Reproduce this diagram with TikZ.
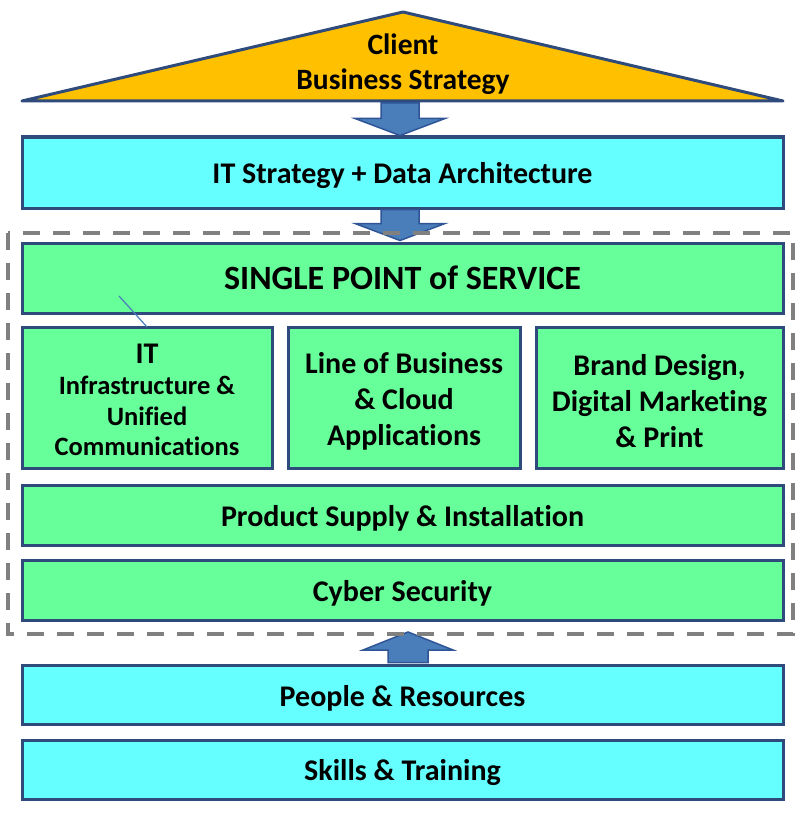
\documentclass[tikz,border=0pt]{standalone}
\usepackage{fontspec}
\setmainfont{Carlito}[Ligatures=NoCommon]
\usetikzlibrary{calc}
\definecolor{navy}{HTML}{2F4B7C}
\definecolor{orangef}{HTML}{FFC000}
\definecolor{cyanf}{HTML}{66FFFF}
\definecolor{greenf}{HTML}{66FF99}
\definecolor{arrowf}{HTML}{4A7EBB}
\definecolor{arrowd}{HTML}{2F5597}
\definecolor{dashg}{HTML}{808080}
\newcommand{\dn}{\rule{0pt}{28pt}}
\tikzset{
  box/.style={draw=navy, line width=3pt, rectangle, align=center, inner sep=0pt,
    font=\fontsize{30}{36}\selectfont\bfseries},
  cyanbox/.style={box, fill=cyanf},
  greenbox/.style={box, fill=greenf},
  bigarrow/.style={draw=arrowd, line width=1.5pt, fill=arrowf, line join=miter},
}
\begin{document}
\begin{tikzpicture}[x=1pt,y=-1pt]
\useasboundingbox (0,0) rectangle (800,824);
% triangle
\draw[draw=navy, line width=3pt, fill=orangef, line join=round] (22,101) -- (403,12) -- (783,101) -- cycle;
\node[align=center, font=\fontsize{29.5}{35}\selectfont\bfseries] (client) at (403,64) {Client\\Business Strategy};
\coordinate (tb) at (400,102);
% boxes
\node[cyanbox, minimum width=761pt, minimum height=71pt] (strat) at (402.5,172.5) {\dn IT Strategy + Data Architecture};
\node[greenbox, minimum width=761pt, minimum height=70pt, font=\fontsize{34}{40}\selectfont\bfseries] (sps) at (402.5,278) {SINGLE POINT of SERVICE};
\node[greenbox, minimum width=250pt, minimum height=141pt] (it) at (147,397.5) {};
\node[font=\fontsize{30}{36}\selectfont\bfseries] (ittitle) at (147,354) {IT};
\node[align=center, font=\fontsize{26.5}{30.5}\selectfont\bfseries] (itsub) at (147,416) {Infrastructure \&\\Unified\\Communications};
\node[greenbox, minimum width=232pt, minimum height=141pt] (lob) at (404,397.5) {\dn Line of Business\\\& Cloud\\Applications};
\node[greenbox, minimum width=247pt, minimum height=141pt] (brand) at (659.5,397.5) {\dn Brand Design,\\Digital Marketing\\\& Print};
\node[greenbox, minimum width=761pt, minimum height=60pt] (prod) at (402.5,515) {\dn Product Supply \& Installation};
\node[greenbox, minimum width=761pt, minimum height=60pt] (cyber) at (402.5,590) {\dn Cyber Security};
\node[cyanbox, minimum width=761pt, minimum height=59pt] (people) at (402.5,694.5) {\dn People \& Resources};
\node[cyanbox, minimum width=761pt, minimum height=59pt] (skills) at (402.5,769.5) {\dn Skills \& Training};
% small line
\coordinate (ln1) at (119,296);
\coordinate (ln2) at (147,327);
\draw[color=arrowf, line width=1.2pt] (ln1) -- (ln2);
% arrows
\coordinate (a1t) at (strat.north -| tb);
\draw[bigarrow] ($(tb)+(-19,1)$) -- ($(tb)+(19,1)$) -- ($(a1t)+(19,-17)$) -- ($(a1t)+(45,-17)$) -- (a1t)
  -- ($(a1t)+(-45,-17)$) -- ($(a1t)+(-19,-17)$) -- cycle;
\coordinate (a2s) at (strat.south -| tb);
\coordinate (a2t) at ($(sps.north -| tb)+(0,-1)$);
\draw[bigarrow] ($(a2s)+(-19,0)$) -- ($(a2s)+(19,0)$) -- ($(a2t)+(19,-17)$) -- ($(a2t)+(45,-17)$) -- (a2t)
  -- ($(a2t)+(-45,-17)$) -- ($(a2t)+(-19,-17)$) -- cycle;
\coordinate (a3x) at (408,0);
\coordinate (a3s) at (people.north -| a3x);
\coordinate (a3t) at (408,632);
\draw[bigarrow] ($(a3s)+(-20,-1)$) -- ($(a3s)+(20,-1)$) -- ($(a3t)+(20,18)$) -- ($(a3t)+(45,18)$) -- (a3t)
  -- ($(a3t)+(-45,18)$) -- ($(a3t)+(-20,18)$) -- cycle;
% dashed frame
\draw[dashg, line width=4pt, dash pattern=on 17pt off 13pt] (8,233) rectangle (793,634);
\end{tikzpicture}
\end{document}
